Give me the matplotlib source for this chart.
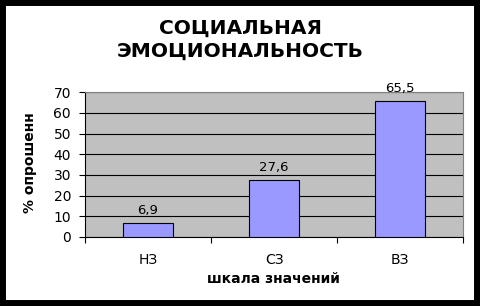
import matplotlib
matplotlib.use("Agg")
import matplotlib.pyplot as plt
from matplotlib.patches import Rectangle

categories = ["НЗ", "СЗ", "ВЗ"]
values = [6.9, 27.6, 65.5]
value_labels = ["6,9", "27,6", "65,5"]
yticks = [0, 10, 20, 30, 40, 50, 60, 70]
title = "СОЦИАЛЬНАЯ\nЭМОЦИОНАЛЬНОСТЬ"
xlabel = "шкала значений"
ylabel = "% опрошенн"

plt.rcParams['font.family'] = ['DejaVu Sans']

fig = plt.figure(figsize=(4.8, 3.06), dpi=100)
fig.patch.set_facecolor('white')
ax = fig.add_axes([0.177, 0.2255, 0.788, 0.4735])
ax.set_facecolor('#C0C0C0')

x = list(range(len(categories)))
ax.bar(x, values, width=0.4, color='#9999FF', edgecolor='black', linewidth=0.8, zorder=3)

for xi, v, lab in zip(x, values, value_labels):
    ax.annotate(lab, (xi, v), xytext=(0, 6.5), textcoords='offset points',
                ha='center', va='baseline', fontsize=9.5, color='black')

ax.set_xlim(-0.5, 2.5)
ax.set_ylim(0, 70)
ax.set_yticks(yticks)
ax.set_yticklabels([str(t) for t in yticks])
ax.yaxis.grid(True, color='black', linewidth=0.8, zorder=1)
ax.set_axisbelow(True)

ax.set_xticks([-0.5, 0.5, 1.5, 2.5])
ax.set_xticklabels([])
ax.set_xticks(x, minor=True)
ax.set_xticklabels(categories, minor=True)
ax.tick_params(axis='x', which='major', direction='out', length=4, width=0.8, color='black')
ax.tick_params(axis='x', which='minor', length=0, pad=11.5, labelsize=10)
ax.tick_params(axis='y', direction='out', length=4.5, width=0.8, pad=5.5, labelsize=10)

for s in ['left', 'bottom']:
    ax.spines[s].set_color('black')
    ax.spines[s].set_linewidth(0.8)
for s in ['top', 'right']:
    ax.spines[s].set_color('#808080')
    ax.spines[s].set_linewidth(0.8)

fig.text(0.5, 0.869, title, ha='center', va='center', fontsize=14.5,
         fontweight='bold', linespacing=1.25)
fig.text(0.569, 0.075, xlabel, ha='center', va='baseline', fontsize=10, fontweight='bold')
fig.text(0.0625, 0.467, ylabel, ha='center', va='center', rotation=90,
         fontsize=10, fontweight='bold')

fig.patches.append(Rectangle((0, 0), 1, 1, transform=fig.transFigure, fill=False,
                             edgecolor='black', linewidth=8.6, zorder=10))

fig.savefig('out.png', dpi=100, facecolor='white')
